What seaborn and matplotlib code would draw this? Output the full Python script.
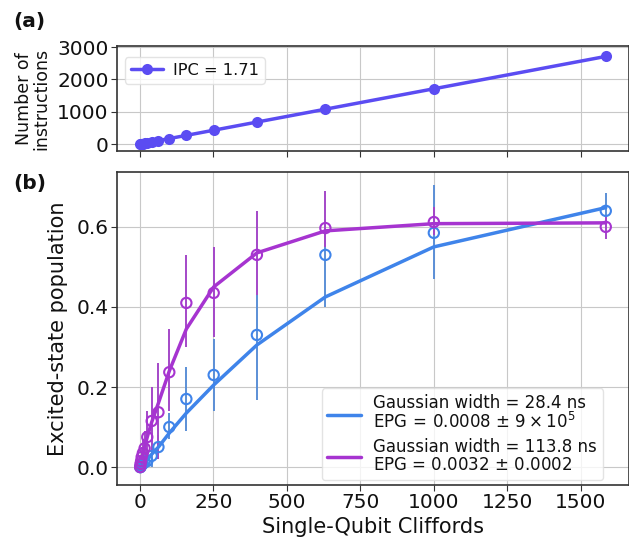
import numpy as np
import pandas as pd
import matplotlib
matplotlib.use("Agg")
import matplotlib.pyplot as plt
import seaborn as sns

# ---- data ----
cliffords = [1, 2, 4, 6, 10, 16, 25, 40, 63, 100, 158, 251, 398, 631, 1000, 1585]
instructions = [2, 3, 7, 10, 17, 27, 43, 68, 108, 171, 270, 429, 681, 1079, 1710, 2710]

blue_pts = [0.0, 0.0, 0.004, 0.006, 0.008, 0.012, 0.015, 0.028, 0.05, 0.10, 0.17, 0.23, 0.33, 0.53, 0.585, 0.64]
blue_lo  = [0.0, 0.0, 0.0, 0.0, 0.0, 0.0, 0.0, 0.0, 0.02, 0.07, 0.09, 0.14, 0.167, 0.40, 0.47, 0.595]
blue_hi  = [0.01, 0.01, 0.015, 0.02, 0.02, 0.03, 0.035, 0.05, 0.08, 0.135, 0.25, 0.32, 0.43, 0.62, 0.705, 0.685]
blue_fit = [0.001, 0.002, 0.003, 0.005, 0.008, 0.013, 0.02, 0.032, 0.05, 0.085, 0.135, 0.205, 0.305, 0.425, 0.55, 0.648]

purple_pts = [0.0, 0.008, 0.015, 0.025, 0.035, 0.047, 0.075, 0.115, 0.137, 0.237, 0.41, 0.435, 0.53, 0.597, 0.612, 0.60]
purple_lo  = [0.0, 0.0, 0.0, 0.005, 0.01, 0.02, 0.03, 0.03, 0.02, 0.14, 0.30, 0.325, 0.43, 0.55, 0.58, 0.57]
purple_hi  = [0.01, 0.02, 0.03, 0.05, 0.07, 0.09, 0.14, 0.20, 0.26, 0.345, 0.53, 0.55, 0.64, 0.69, 0.65, 0.63]
purple_fit = [0.004, 0.007, 0.013, 0.02, 0.032, 0.05, 0.075, 0.112, 0.16, 0.24, 0.345, 0.45, 0.535, 0.59, 0.608, 0.61]

ipc_label = "IPC = 1.71"
blue_label = "Gaussian width = 28.4 ns\nEPG$\\,=\\,$0.0008 $\\pm$ $9\\times10^5$"
purple_label = "Gaussian width = 113.8 ns\nEPG = 0.0032 $\\pm$ 0.0002"

c_top = "#5b4cf2"
c_blue = "#3f84ea"
c_blue_err = "#5b8fd6"
c_purple = "#a634d0"
c_purple_err = "#a447c8"

sns.set_style("whitegrid", {
    "axes.edgecolor": "#333333",
    "grid.color": "#c8c8c8",
    "xtick.bottom": True,
    "ytick.left": True,
    "text.color": "#111111",
    "axes.labelcolor": "#111111",
    "xtick.color": "#111111",
    "ytick.color": "#111111",
})
plt.rcParams["font.family"] = ["DejaVu Sans"]

fig = plt.figure(figsize=(6.29, 5.42), dpi=100)
ax1 = fig.add_axes([0.186, 0.721, 0.814, 0.194])
ax2 = fig.add_axes([0.186, 0.105, 0.814, 0.578], sharex=ax1)

# ---- top panel ----
df_top = pd.DataFrame({"x": cliffords, "y": instructions})
sns.lineplot(data=df_top, x="x", y="y", ax=ax1, color=c_top, lw=2.5,
             marker="o", markersize=8, markeredgewidth=0, label=ipc_label)
ax1.set_ylim(-220, 3030)
ax1.set_yticks([0, 1000, 2000, 3000])
ax1.set_xlabel("")
ax1.set_ylabel("Number of\ninstructions", fontsize=12.5, labelpad=5, linespacing=0.95)
ax1.tick_params(axis="x", labelbottom=False, length=4, color="#333333")
ax1.tick_params(axis="y", labelsize=14.5, length=4, color="#333333", pad=2)
leg1 = ax1.legend(loc="upper left", fontsize=11.7, frameon=True, handlelength=2.0,
                  borderpad=0.35, handletextpad=0.6, bbox_to_anchor=(0.0, 0.97))
leg1.get_frame().set_edgecolor("#dddddd")
fig.text(0.021, 0.978, "(a)", fontsize=14.5, fontweight="bold", va="top", ha="left")

# ---- bottom panel ----
x = np.array(cliffords)
for pts, lo, hi, fit, col, ecol, lab in [
    (blue_pts, blue_lo, blue_hi, blue_fit, c_blue, c_blue_err, blue_label),
    (purple_pts, purple_lo, purple_hi, purple_fit, c_purple, c_purple_err, purple_label),
]:
    pts = np.array(pts); lo = np.array(lo); hi = np.array(hi)
    ax2.errorbar(x, pts, yerr=[pts - lo, hi - pts], fmt="none", ecolor=ecol,
                 elinewidth=1.4, capsize=0, zorder=2)
    sns.lineplot(x=x, y=fit, ax=ax2, color=col, lw=2.5, label=lab, zorder=3)
    sns.scatterplot(x=x, y=pts, ax=ax2, marker="o", s=55, facecolor="none",
                    edgecolor=col, linewidth=1.5, zorder=4)

ax2.set_ylim(-0.045, 0.7375)
ax2.set_yticks([0.0, 0.2, 0.4, 0.6])
ax2.set_xticks([0, 250, 500, 750, 1000, 1250, 1500])
ax2.set_xlim(-78, 1664)
ax2.set_xlabel("Single-Qubit Cliffords", fontsize=15, labelpad=3)
ax2.set_ylabel("Excited-state population", fontsize=15, labelpad=6)
ax2.tick_params(axis="both", labelsize=14.5, length=4, color="#333333", pad=2)
leg2 = ax2.legend(loc="lower right", fontsize=12, frameon=True, handlelength=2.0,
                  borderpad=0.35, labelspacing=0.35, handletextpad=0.75,
                  bbox_to_anchor=(0.949, 0.016), borderaxespad=0)
for t in leg2.get_texts():
    t.set_linespacing(1.0)
leg2.get_frame().set_edgecolor("#dddddd")
fig.text(0.021, 0.679, "(b)", fontsize=14.5, fontweight="bold", va="top", ha="left")

for ax in (ax1, ax2):
    for s in ax.spines.values():
        s.set_linewidth(1.2)

fig.savefig("out.png", dpi=100)
